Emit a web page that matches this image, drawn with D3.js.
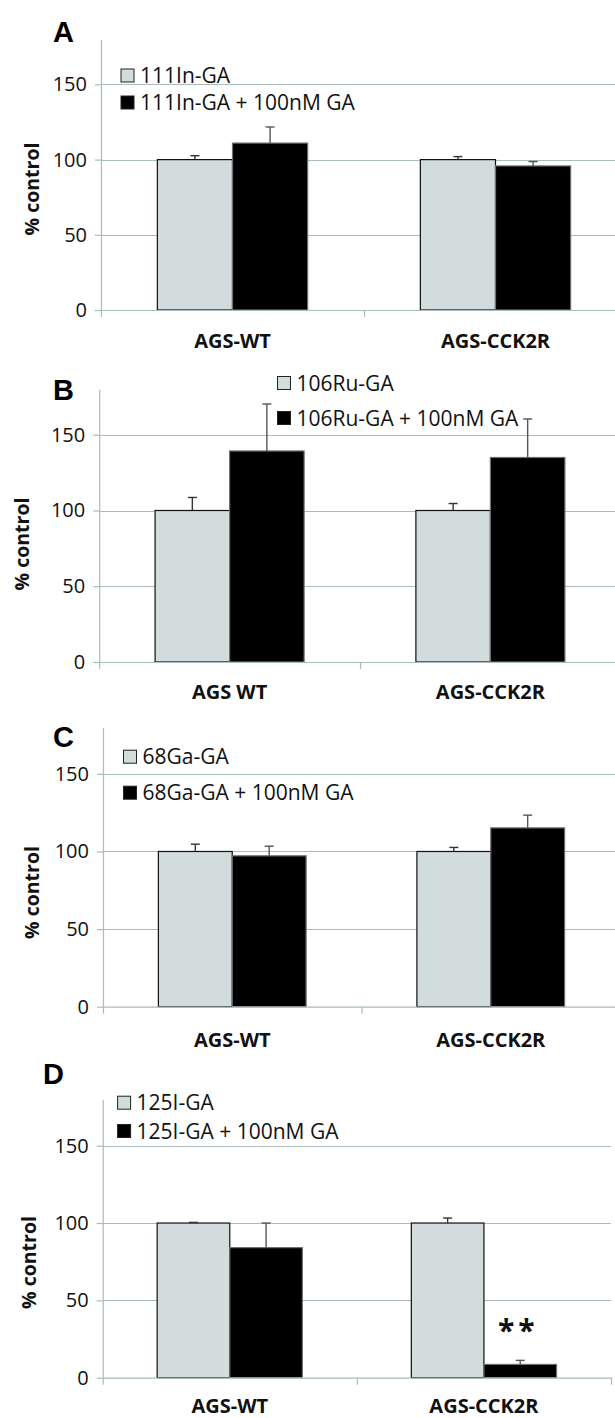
<!DOCTYPE html>
<html><head><meta charset="utf-8">
<script src="https://cdn.jsdelivr.net/npm/d3@7"></script>
<style>body{margin:0;background:#fff}svg{display:block}</style>
</head><body><svg id="chart" width="615" height="1418"></svg>
<script>
// ---------- data ----------
const panelLetters = ["A", "B", "C", "D"];
const categoriesA = ["AGS-WT", "AGS-CCK2R"];
const categoriesB = ["AGS WT", "AGS-CCK2R"];
const categoriesC = ["AGS-WT", "AGS-CCK2R"];
const categoriesD = ["AGS-WT", "AGS-CCK2R"];
const seriesA = ["111In-GA", "111In-GA + 100nM GA"];
const seriesB = ["106Ru-GA", "106Ru-GA + 100nM GA"];
const seriesC = ["68Ga-GA", "68Ga-GA + 100nM GA"];
const seriesD = ["125I-GA", "125I-GA + 100nM GA"];
const tracerA = [100, 100],   tracerErrA = [2.6, 2.0];
const blockedA = [111, 95.8], blockedErrA = [10.7, 2.9];
const tracerB = [100, 100],   tracerErrB = [8.6, 4.6];
const blockedB = [139.3, 135], blockedErrB = [31, 25.4];
const tracerC = [100, 100],   tracerErrC = [4.7, 2.6];
const blockedC = [97.2, 115.2], blockedErrC = [6.2, 8.2];
const tracerD = [100, 100],   tracerErrD = [0.4, 3.2];
const blockedD = [84.1, 8.6], blockedErrD = [15.9, 2.6];
const yTicks = [0, 50, 100, 150];
const yMax = 180;
const yTitle = "% control";
const significanceD = {category: "AGS-CCK2R", series: 1, label: "**"};

const panels = [
  {letter: panelLetters[0], cats: categoriesA, series: seriesA, vals: [tracerA, blockedA], errs: [tracerErrA, blockedErrA]},
  {letter: panelLetters[1], cats: categoriesB, series: seriesB, vals: [tracerB, blockedB], errs: [tracerErrB, blockedErrB]},
  {letter: panelLetters[2], cats: categoriesC, series: seriesC, vals: [tracerC, blockedC], errs: [tracerErrC, blockedErrC]},
  {letter: panelLetters[3], cats: categoriesD, series: seriesD, vals: [tracerD, blockedD], errs: [tracerErrD, blockedErrD], sig: significanceD}
];

// ---------- layout (pixels) ----------
const layouts = [
  {ax: 101,   right: 627,   y0: 310,    yTop: 39.3,   letter: [53, 42],    title: [38.5, 189],   catY: 348,    leg: [121, 75.5, 102.5]},
  {ax: 99.2,  right: 620.8, y0: 662,    yTop: 389.3,  letter: [53, 400],   title: [29, 544],     catY: 699.3,  leg: [277.5, 383, 418]},
  {ax: 103,   right: 620,   y0: 1006.7, yTop: 727.3,  letter: [53, 747],   title: [38.5, 892.5], catY: 1046.7, leg: [123.5, 756.7, 792.7]},
  {ax: 102.7, right: 611,   y0: 1377.7, yTop: 1099.3, letter: [43, 1084],  title: [35.5, 1262.5], catY: 1413,  leg: [117.6, 1102.7, 1131]}
];

const gridColor = "#a9bcbc";
const fills = ["#d2dcdc", "#000000"];
const strokes = ["#111111", "#707070"];
const errColors = ["#333333", "#555555"];
const FONT = "'Open Sans', 'Noto Sans', sans-serif";

const svg = d3.select("#chart");
const measureCtx = document.createElement("canvas").getContext("2d");

panels.forEach((p, i) => {
  const L = layouts[i];
  const g = svg.append("g");

  const y = d3.scaleLinear().domain([0, yMax]).range([L.y0, L.yTop]);
  const x0 = d3.scaleBand().domain(p.cats).range([L.ax, L.right]).padding(0);
  const bw = x0.bandwidth();
  const x1 = d3.scaleBand().domain([0, 1]).range([bw * 1.5 / 7, bw * 5.5 / 7]).padding(0);
  const xb = d3.scaleLinear().domain([0, p.cats.length]).range([L.ax, L.right]);

  // gridlines
  g.append("g").selectAll("line").data(yTicks.filter(t => t > 0)).join("line")
    .attr("x1", L.ax).attr("x2", L.right)
    .attr("y1", d => Math.round(y(d)) + 0.5).attr("y2", d => Math.round(y(d)) + 0.5)
    .attr("stroke", gridColor).attr("stroke-width", 1.2);

  // bars
  const data = [];
  p.cats.forEach((c, ci) => p.vals.forEach((arr, si) => data.push({c, si, v: arr[ci], e: p.errs[si][ci]})));
  g.append("g").selectAll("rect").data(data).join("rect")
    .attr("x", d => x0(d.c) + x1(d.si))
    .attr("width", x1.bandwidth())
    .attr("y", d => y(d.v))
    .attr("height", d => y(0) - y(d.v))
    .attr("fill", d => fills[d.si])
    .attr("stroke", d => strokes[d.si]).attr("stroke-width", 1.2);

  // error bars (upper only)
  const eg = g.append("g");
  data.forEach(d => {
    const cx = x0(d.c) + x1(d.si) + x1.bandwidth() / 2;
    eg.append("line").attr("x1", cx).attr("x2", cx).attr("y1", y(d.v)).attr("y2", y(d.v + d.e))
      .attr("stroke", errColors[d.si]).attr("stroke-width", 1.4);
    eg.append("line").attr("x1", cx - 4.5).attr("x2", cx + 4.5).attr("y1", y(d.v + d.e)).attr("y2", y(d.v + d.e))
      .attr("stroke", errColors[d.si]).attr("stroke-width", 1.4);
  });

  // y axis
  const ya = g.append("g").attr("transform", `translate(${L.ax},0)`)
    .call(d3.axisLeft(y).tickValues(yTicks).tickSize(6).tickPadding(8).tickSizeOuter(0));
  ya.select(".domain").attr("stroke", gridColor).attr("stroke-width", 1.2);
  ya.selectAll(".tick line").attr("stroke", gridColor).attr("stroke-width", 1.2);
  ya.selectAll(".tick text").attr("font-family", FONT).attr("font-size", 20).attr("fill", "#111");

  // x axis (Excel style ticks between categories)
  const xa = g.append("g").attr("transform", `translate(0,${L.y0})`)
    .call(d3.axisBottom(xb).tickValues(d3.range(p.cats.length + 1)).tickSize(7).tickSizeOuter(0).tickFormat(""));
  xa.select(".domain").attr("stroke", gridColor).attr("stroke-width", 1.2);
  xa.selectAll(".tick line").attr("stroke", gridColor).attr("stroke-width", 1.2);

  // category labels
  g.append("g").selectAll("text").data(p.cats).join("text")
    .attr("x", d => x0(d) + bw / 2).attr("y", L.catY)
    .attr("text-anchor", "middle").attr("font-family", FONT).attr("font-weight", 700)
    .attr("font-size", 20).attr("fill", "#111").text(d => d);

  // y title
  g.append("text").attr("transform", `translate(${L.title[0]},${L.title[1]}) rotate(-90)`)
    .attr("text-anchor", "middle").attr("font-family", FONT).attr("font-weight", 700)
    .attr("font-size", 19.5).attr("fill", "#111").text(yTitle);

  // panel letter
  g.append("text").attr("x", L.letter[0]).attr("y", L.letter[1])
    .attr("font-family", "'Liberation Sans', Arial, sans-serif").attr("font-weight", 700)
    .attr("font-size", 29).attr("fill", "#000").text(p.letter);

  // legend
  const lg = g.append("g");
  p.series.forEach((s, si) => {
    const cy = L.leg[1 + si];
    lg.append("rect").attr("x", L.leg[0]).attr("y", cy - 6.5).attr("width", 13).attr("height", 13)
      .attr("fill", fills[si]).attr("stroke", "#222").attr("stroke-width", 1);
    lg.append("text").attr("x", L.leg[0] + 19).attr("y", cy + 7.5)
      .attr("font-family", FONT).attr("font-size", 21).attr("fill", "#111").text(s);
  });

  // significance: ink centred ~35px above the error bar cap
  if (p.sig) {
    const ci = p.cats.indexOf(p.sig.category);
    const cx = x0(p.sig.category) + x1(p.sig.series) + x1.bandwidth() / 2;
    const top = y(p.vals[p.sig.series][ci] + p.errs[p.sig.series][ci]);
    const fs = 30;
    measureCtx.font = `700 ${fs}px 'Open Sans'`;
    const m = measureCtx.measureText(p.sig.label);
    let off = (m.actualBoundingBoxAscent - m.actualBoundingBoxDescent) / 2;
    if (!isFinite(off) || off <= 0) off = 0.55 * fs;
    const target = top - 35;
    g.append("text").attr("x", cx - 2).attr("y", target + off)
      .attr("text-anchor", "middle").attr("font-family", FONT).attr("font-weight", 700)
      .attr("font-size", fs).attr("letter-spacing", 4).attr("fill", "#111").text(p.sig.label);
  }
});
</script></body></html>
